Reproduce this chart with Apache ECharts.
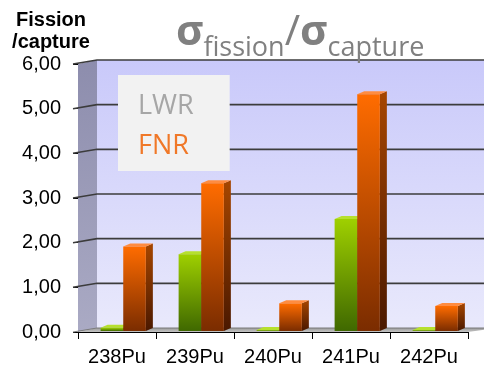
<!DOCTYPE html>
<html><head><meta charset="utf-8">
<script src="https://cdn.jsdelivr.net/npm/echarts@6/dist/echarts.min.js"></script>
<style>html,body{margin:0;padding:0;background:#fff}#c{width:484px;height:367px}</style>
</head><body><div id="c"></div>
<script>
var categories = ['238Pu', '239Pu', '240Pu', '241Pu', '242Pu'];
var lwrValues = [0.07, 1.72, 0.02, 2.51, 0.02];
var fnrValues = [1.89, 3.31, 0.62, 5.3, 0.56];
var yTicks = [0, 1, 2, 3, 4, 5, 6];

var DX = 19, DY = -4;       // depth offset of back wall
var BDY = -1;               // bars baseline offset
var SX = 7, SY = -3;        // bar side/top depth
var G = echarts.graphic;

function grad(c1, c2) {
  return new G.LinearGradient(0, 0, 0, 1, [{offset: 0, color: c1}, {offset: 1, color: c2}]);
}

function renderWalls(params, api) {
  var n = categories.length;
  var bw = api.size([1, 0])[0];
  var pL0 = api.coord([0, 0]); var pL6 = api.coord([0, 6]);
  var xl = pL0[0] - bw / 2;
  var xr = api.coord([n - 1, 0])[0] + bw / 2;
  var y0 = pL0[1], y6 = pL6[1];
  var children = [];
  children.push({type: 'polygon', shape: {points: [[xl + DX, y6 + DY], [xr + DX + 10, y6 + DY], [xr + DX + 10, y0 + DY], [xl + DX, y0 + DY]]},
    style: {fill: grad('#c9c9fa', '#e9e9fc')}, silent: true});
  children.push({type: 'polygon', shape: {points: [[xl, y6], [xl + DX, y6 + DY], [xl + DX, y0 + DY], [xl, y0]]},
    style: {fill: grad('#8d8dad', '#aaaac4')}, silent: true});
  children.push({type: 'polygon', shape: {points: [[xl, y0], [xl + DX, y0 + DY], [xr + DX + 10, y0 + DY], [xr + DX + 10, y0 + DY], [xr, y0]]},
    style: {fill: grad('#9a9a9a', '#c4c4c4')}, silent: true});
  for (var i = 0; i < yTicks.length; i++) {
    var yy = api.coord([0, yTicks[i]])[1];
    children.push({type: 'polyline', shape: {points: [[xl - 5, yy], [xl + DX, yy + DY], [xr + DX + 10, yy + DY]]},
      style: yTicks[i] > 0 ? {stroke: '#3c3c3c', lineWidth: 1.6, fill: null} : {stroke: '#7a7a7a', lineWidth: 1, fill: null},
      silent: true});
  }
  return {type: 'group', children: children};
}

function makeBarRenderer(idx, front, side, topc) {
  return function (params, api) {
    var cat = api.value(0), v = api.value(1);
    var base = api.coord([cat, 0]);
    var top = api.coord([cat, v]);
    var bw = api.size([1, 0])[0];
    var bandStart = base[0] - bw / 2;
    var w = bw * 0.29;
    var x0 = bandStart + bw * (0.29 + 0.29 * idx);
    var y0 = base[1] + BDY, y1 = top[1] + BDY;
    return {type: 'group', children: [
      {type: 'polygon', shape: {points: [[x0 + w, y1], [x0 + w + SX, y1 + SY], [x0 + w + SX, y0 + SY], [x0 + w, y0]]},
        style: {fill: side}},
      {type: 'polygon', shape: {points: [[x0, y1], [x0 + SX, y1 + SY], [x0 + w + SX, y1 + SY], [x0 + w, y1]]},
        style: {fill: topc}},
      {type: 'rect', shape: {x: x0, y: y1, width: w, height: y0 - y1},
        style: {fill: front}}
    ]};
  };
}

var lwrData = lwrValues.map(function (v, i) { return [i, v]; });
var fnrData = fnrValues.map(function (v, i) { return [i, v]; });

var chart = echarts.init(document.getElementById('c'), null, {renderer: 'canvas'});
chart.setOption({
  animation: false,
  backgroundColor: '#ffffff',
  title: {
    text: '{s|σ}{b|fission}{p|/}{s|σ}{b|capture}',
    left: 176, top: 5, padding: 0,
    textStyle: {
      fontWeight: 'normal',
      rich: {
        s: {fontFamily: 'Open Sans', fontSize: 42, fontWeight: 'bold', color: '#808080', lineHeight: 56, verticalAlign: 'middle'},
        p: {fontFamily: 'Open Sans', fontSize: 42, fontWeight: 'normal', color: '#808080', lineHeight: 56, verticalAlign: 'middle'},
        b: {fontFamily: 'Open Sans', fontSize: 27, fontWeight: 'normal', color: '#808080', lineHeight: 26, padding: [30, 0, 0, 0], verticalAlign: 'middle'}
      }
    }
  },
  graphic: [{
    type: 'text', x: 51, y: 9,
    style: {text: 'Fission\n/capture', align: 'center', fontFamily: 'Liberation Sans', fontWeight: 'bold', fontSize: 20, lineHeight: 22, fill: '#000'}
  }],
  legend: {
    orient: 'vertical', left: 118, top: 75,
    backgroundColor: '#f2f2f2', padding: [16, 36, 10, 15],
    itemWidth: 0, itemHeight: 0, itemGap: 10,
    textStyle: {fontFamily: 'Open Sans', fontSize: 27, lineHeight: 30},
    data: [
      {name: 'LWR', textStyle: {color: '#a6a6a6'}},
      {name: 'FNR', textStyle: {color: '#f07828'}}
    ],
    selectedMode: false
  },
  grid: {left: 78, right: 16, top: 64, bottom: 35},
  xAxis: {
    type: 'category', data: categories,
    axisLine: {lineStyle: {color: '#000', width: 1}},
    axisTick: {show: true, length: 7, lineStyle: {color: '#000'}},
    axisLabel: {fontFamily: 'Liberation Sans', fontSize: 20, color: '#000', margin: 15}
  },
  yAxis: {
    type: 'value', min: 0, max: 6, interval: 1,
    axisLine: {show: true, lineStyle: {color: '#000', width: 1}},
    axisTick: {show: true, length: 5, lineStyle: {color: '#000'}},
    splitLine: {show: false},
    axisLabel: {fontFamily: 'Liberation Sans', fontSize: 20, color: '#000', margin: 17,
      formatter: function (v) { return v.toFixed(2).replace('.', ','); }}
  },
  series: [
    {type: 'custom', name: 'walls', renderItem: renderWalls, data: [[0, 0]], z: 1, silent: true, encode: {x: 0, y: 1}},
    {type: 'custom', name: 'LWR', z: 3, encode: {x: 0, y: 1}, data: lwrData,
      itemStyle: {color: '#a6a6a6'},
      renderItem: makeBarRenderer(0, grad('#9fd000', '#3f6800'), grad('#6a8a00', '#2c4800'), '#b6e02e')},
    {type: 'custom', name: 'FNR', z: 4, encode: {x: 0, y: 1}, data: fnrData,
      itemStyle: {color: '#f07828'},
      renderItem: makeBarRenderer(1, grad('#ff6c00', '#7a2c00'), grad('#a64600', '#4a1800'), '#ff8c40')}
  ]
});
</script></body></html>
